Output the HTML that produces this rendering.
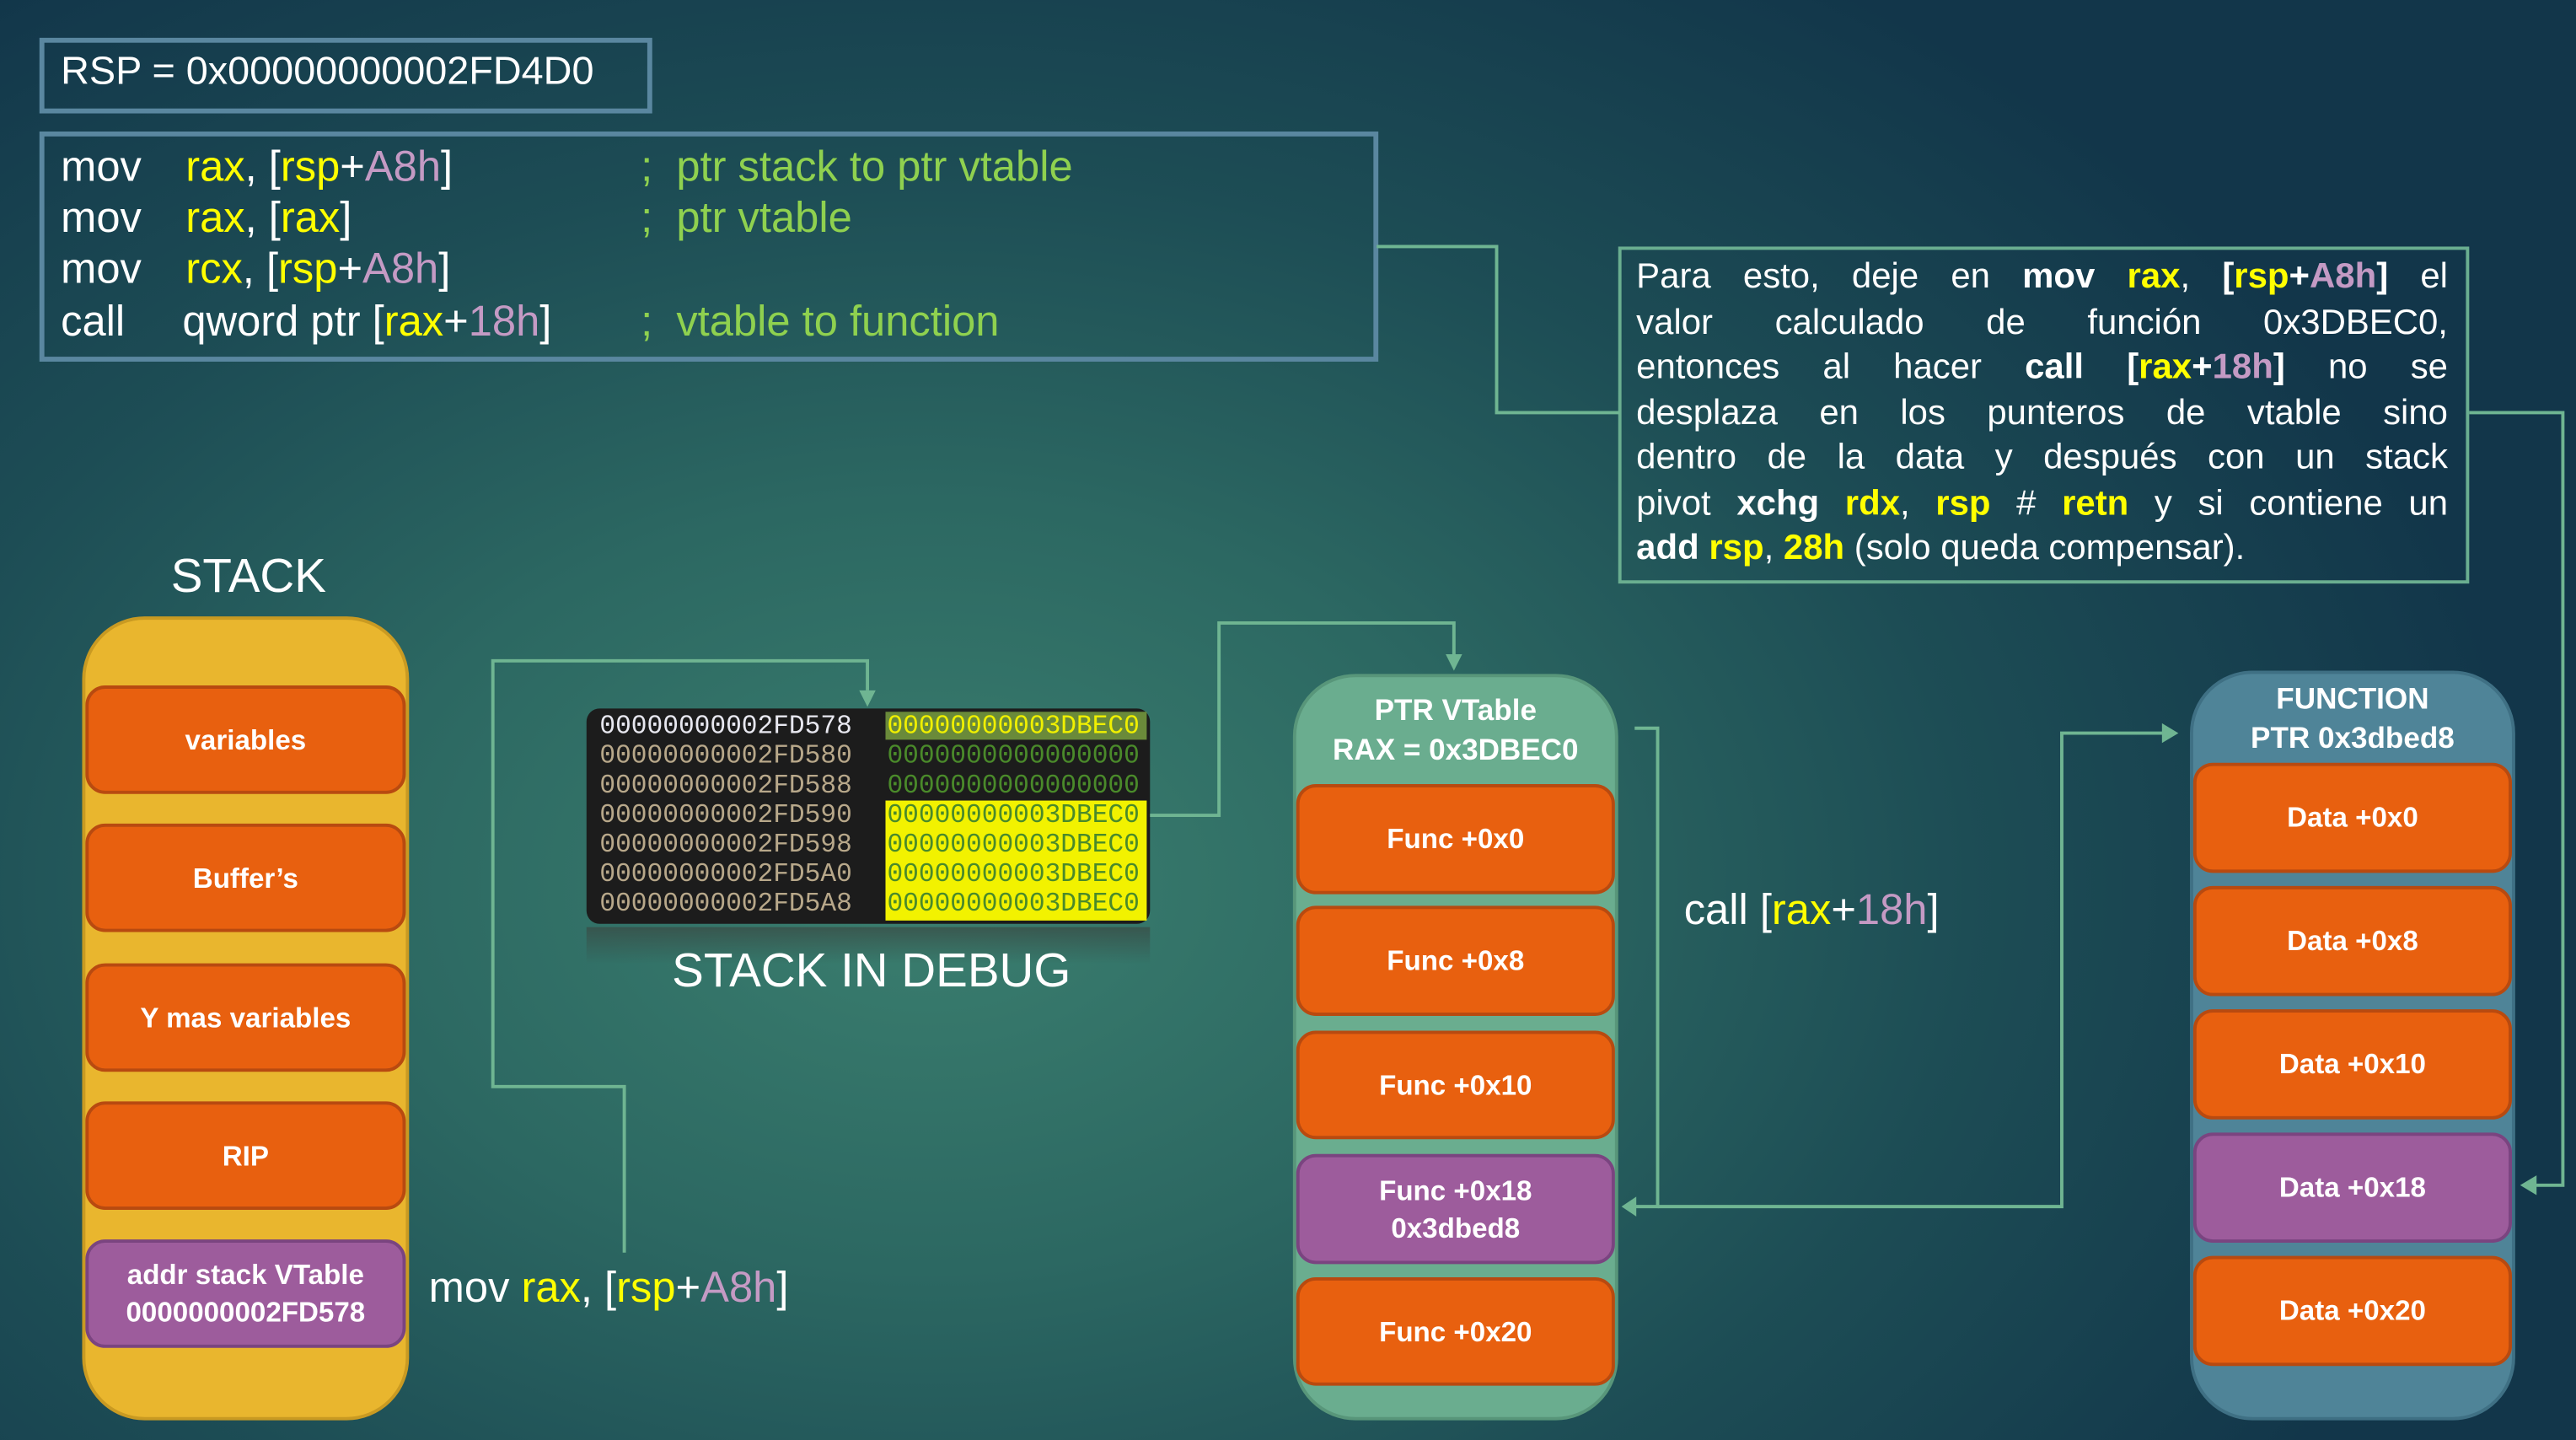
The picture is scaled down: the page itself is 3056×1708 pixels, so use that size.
<!DOCTYPE html>
<html><head><meta charset="utf-8">
<style>
html,body{margin:0;padding:0;width:3056px;height:1708px;overflow:hidden;}
body{background:radial-gradient(ellipse 1900px 1300px at 1100px 1050px,#3b7f6f 0%,#2c6862 35%,#1d4d55 65%,#12364a 100%);}
#s{position:absolute;left:0;top:0;width:1568px;height:876px;transform-origin:0 0;transform:scale(1.94898,1.94977);font-family:"Liberation Sans",sans-serif;color:#fff;}
.a{position:absolute;}
.box{position:absolute;border:3px solid #5a87a0;box-sizing:border-box;}
.y{color:#ffff00}.p{color:#c49ac4}.g{color:#8fd14f}
.item{position:absolute;left:0;width:100%;box-sizing:border-box;border:2px solid #b84a10;border-radius:12px;background:#e8600f;display:flex;align-items:center;justify-content:center;text-align:center;font-weight:bold;font-size:17px;line-height:23px;}
.pu{background:#9d5c9c;border-color:#7a4480;}
.cont{position:absolute;box-sizing:border-box;border-radius:38px;}
.code{position:absolute;font-size:26px;white-space:pre;}
.ln{height:27.5px;text-align:justify;text-align-last:justify;white-space:nowrap;}
.ln.last{text-align-last:left;}
</style></head><body><div id="s">
<div class="box" style="left:24px;top:23px;width:373px;height:46px;"></div>
<div class="a" style="left:37px;top:30px;font-size:24px;">RSP = 0x00000000002FD4D0</div>
<div class="box" style="left:24px;top:80px;width:815px;height:140px;"></div>
<div class="code" style="left:37px;top:86px;">mov</div><div class="code" style="left:113px;top:86px;"><span class="y">rax</span>, [<span class="y">rsp</span>+<span class="p">A8h</span>]</div><div class="code g" style="left:390px;top:86px;">;  ptr stack to ptr vtable</div>
<div class="code" style="left:37px;top:117px;">mov</div><div class="code" style="left:113px;top:117px;"><span class="y">rax</span>, [<span class="y">rax</span>]</div><div class="code g" style="left:390px;top:117px;">;  ptr vtable</div>
<div class="code" style="left:37px;top:148px;">mov</div><div class="code" style="left:113px;top:148px;"><span class="y">rcx</span>, [<span class="y">rsp</span>+<span class="p">A8h</span>]</div>
<div class="code" style="left:37px;top:180px;">call</div><div class="code" style="left:111px;top:180px;">qword ptr [<span class="y">rax</span>+<span class="p">18h</span>]</div><div class="code g" style="left:390px;top:180px;">;  vtable to function</div>

<div class="a" style="left:985px;top:150px;width:518px;height:205px;border:2px solid #6aae90;box-sizing:border-box;"></div>
<div class="a" style="left:996px;top:155px;width:494px;font-size:21.5px;line-height:27.5px;">
<div class="ln">Para esto, deje en <b>mov</b> <b class="y">rax</b>, <b>[<span class="y">rsp</span>+<span class="p">A8h</span>]</b> el</div>
<div class="ln">valor calculado de función 0x3DBEC0,</div>
<div class="ln">entonces al hacer <b>call</b> <b>[<span class="y">rax</span>+<span class="p">18h</span>]</b> no se</div>
<div class="ln">desplaza en los punteros de vtable sino</div>
<div class="ln">dentro de la data y después con un stack</div>
<div class="ln">pivot <b>xchg</b> <b class="y">rdx</b>, <b class="y">rsp</b> # <b class="y">retn</b> y si contiene un</div>
<div class="ln last"><b>add</b> <b class="y">rsp</b>, <b class="y">28h</b> (solo queda compensar).</div>
</div>

<div class="a" style="left:104px;top:335px;font-size:29px;">STACK</div>
<div class="cont" style="left:50px;top:375px;width:199px;height:489px;background:#e9b62e;border:2px solid #c99a22;">
<div class="item" style="top:40px;height:66px;">variables</div>
<div class="item" style="top:124px;height:66px;">Buffer’s</div>
<div class="item" style="top:209px;height:66px;">Y mas variables</div>
<div class="item" style="top:293px;height:66px;">RIP</div>
<div class="item pu" style="top:377px;height:66px;">addr stack VTable<br>0000000002FD578</div>
</div>

<div class="a" style="left:357px;top:431px;width:343px;height:131px;background:#1c1c1c;border-radius:8px;"></div>
<div class="a" style="left:539px;top:433px;width:159px;height:17px;background:#6a8a3a;"></div>
<div class="a" style="left:539px;top:487px;width:159px;height:73px;background:#f2f200;"></div>
<div class="a" style="left:365px;top:433px;font-family:'Liberation Mono',monospace;font-size:16px;line-height:18px;white-space:pre;color:#b8a88a;"><span style="color:#e8e8f0">00000000002FD578</span>
00000000002FD580
00000000002FD588
00000000002FD590
00000000002FD598
00000000002FD5A0
00000000002FD5A8</div>
<div class="a" style="left:540px;top:433px;font-family:'Liberation Mono',monospace;font-size:16px;line-height:18px;white-space:pre;color:#4a8a2a;"><span style="color:#f0f000">00000000003DBEC0</span>
0000000000000000
0000000000000000
00000000003DBEC0
00000000003DBEC0
00000000003DBEC0
00000000003DBEC0</div>
<div class="a" style="left:357px;top:564px;width:343px;height:22px;background:linear-gradient(#3a4a44,rgba(40,100,90,0));opacity:.7;"></div>
<div class="a" style="left:409px;top:575px;font-size:29px;">STACK IN DEBUG</div>

<div class="cont" style="left:787px;top:410px;width:198px;height:454px;background:#6aad8f;border:2px solid #58967a;">
<div class="a" style="left:0;top:8px;width:100%;text-align:center;font-weight:bold;font-size:18px;line-height:24px;">PTR VTable<br>RAX = 0x3DBEC0</div>
<div class="item" style="top:65px;height:67px;">Func +0x0</div>
<div class="item" style="top:139px;height:67px;">Func +0x8</div>
<div class="item" style="top:215px;height:66px;">Func +0x10</div>
<div class="item pu" style="top:290px;height:67px;">Func +0x18<br>0x3dbed8</div>
<div class="item" style="top:365px;height:66px;">Func +0x20</div>
</div>

<div class="cont" style="left:1333px;top:408px;width:198px;height:456px;background:#4f8498;border:2px solid #3f7084;">
<div class="a" style="left:0;top:3px;width:100%;text-align:center;font-weight:bold;font-size:18px;line-height:24px;">FUNCTION<br>PTR 0x3dbed8</div>
<div class="item" style="top:54px;height:67px;">Data +0x0</div>
<div class="item" style="top:129px;height:67px;">Data +0x8</div>
<div class="item" style="top:204px;height:67px;">Data +0x10</div>
<div class="item pu" style="top:279px;height:67px;">Data +0x18</div>
<div class="item" style="top:354px;height:67px;">Data +0x20</div>
</div>

<div class="a" style="left:261px;top:768px;font-size:26px;">mov <span class="y">rax</span>, [<span class="y">rsp</span>+<span class="p">A8h</span>]</div>
<div class="a" style="left:1025px;top:538px;font-size:26px;">call [<span class="y">rax</span>+<span class="p">18h</span>]</div>

<svg class="a" style="left:0;top:0" width="1568" height="876">
<g fill="none" stroke="#6fb592" stroke-width="2">
<polyline points="528,420 528,402 300,402 300,661 380,661 380,762"/>
<polyline points="700,496 742,496 742,379 885,379 885,400"/>
<polyline points="995,443 1009,443 1009,734 994,734"/>
<polyline points="1009,734 1255,734 1255,446 1318,446"/>
<polyline points="838,150 911,150 911,251 986,251"/>
<polyline points="1503,251 1560,251 1560,721 1542,721"/>
</g>
<g fill="#6fb592">
<polygon points="523,420 533,420 528,430"/>
<polygon points="880,398 890,398 885,408"/>
<polygon points="996,728 996,740 987,734"/>
<polygon points="1316,440 1316,452 1326,446"/>
<polygon points="1544,715 1544,727 1534,721"/>
</g>
</svg>
</div></body></html>
